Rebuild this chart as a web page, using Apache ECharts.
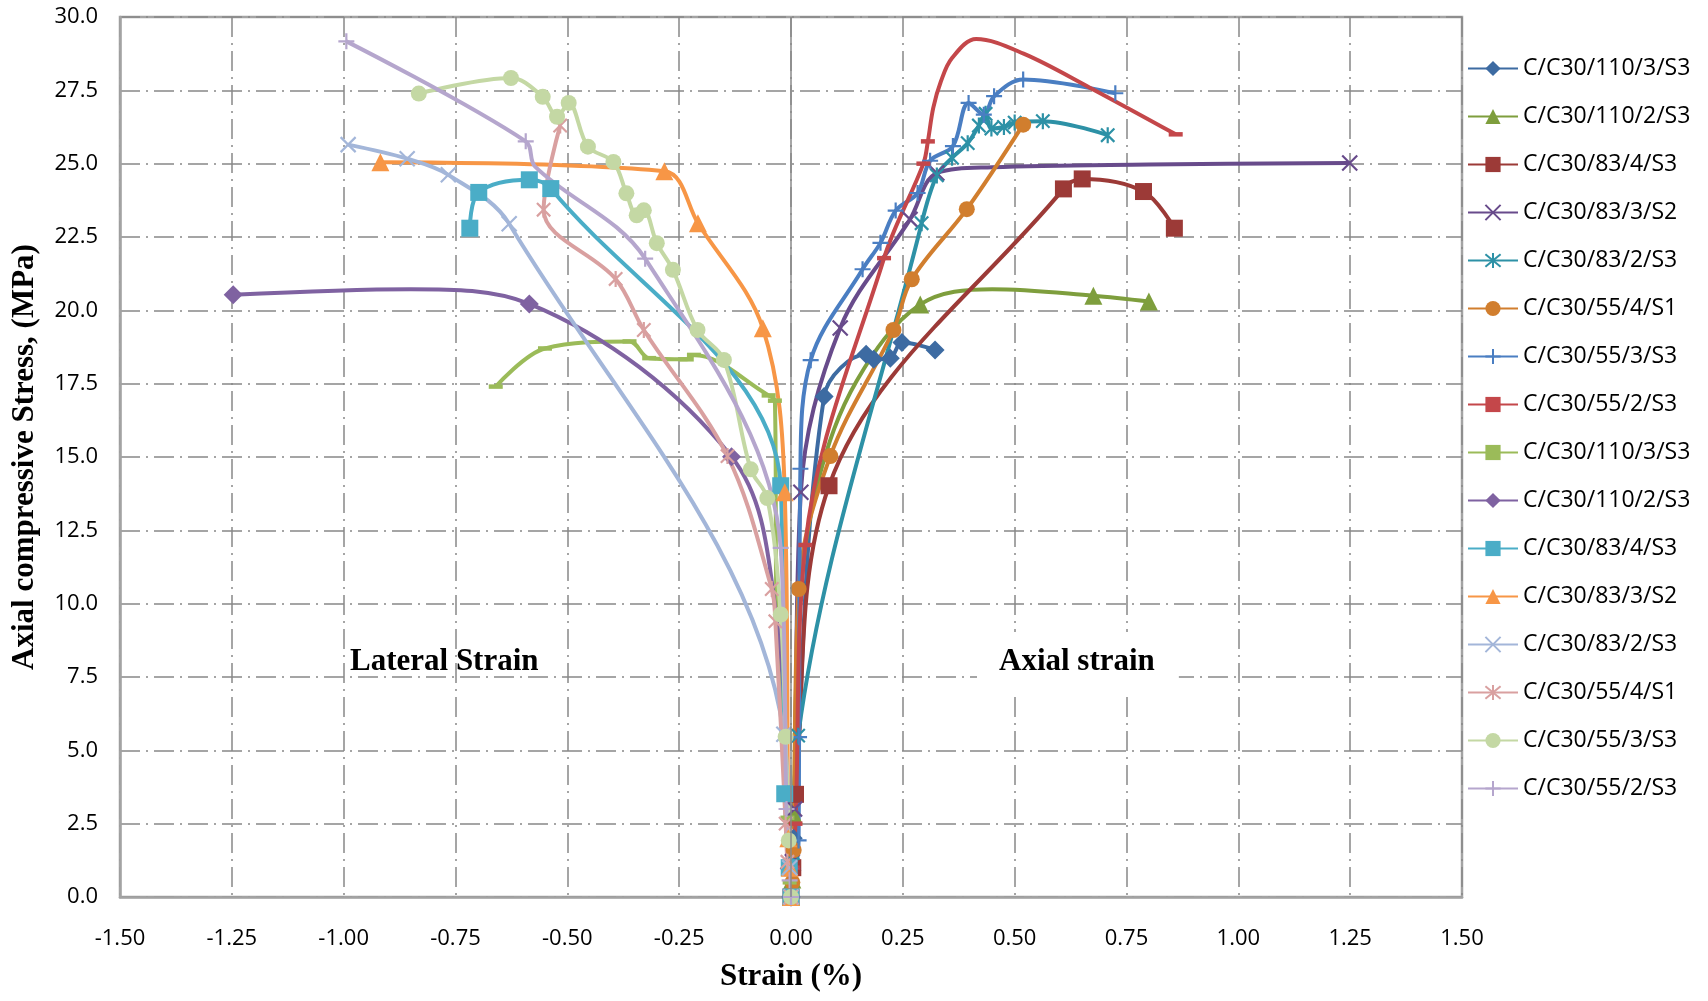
<!DOCTYPE html>
<html>
<head>
<meta charset="utf-8">
<script src="https://cdn.jsdelivr.net/npm/echarts@6/dist/echarts.min.js"></script>
<style>
html,body{margin:0;padding:0;background:#fff;}
#chart{width:1708px;height:1001px;}
</style>
</head>
<body>
<div id="chart"></div>
<script>
// ---- Data (strain %, stress MPa) ----
const seriesNames = [
  'C/C30/110/3/S3','C/C30/110/2/S3','C/C30/83/4/S3','C/C30/83/3/S2',
  'C/C30/83/2/S3','C/C30/55/4/S1','C/C30/55/3/S3','C/C30/55/2/S3',
  'C/C30/110/3/S3','C/C30/110/2/S3','C/C30/83/4/S3','C/C30/83/3/S2',
  'C/C30/83/2/S3','C/C30/55/4/S1','C/C30/55/3/S3','C/C30/55/2/S3'
];
const xTicks = [-1.5,-1.25,-1,-0.75,-0.5,-0.25,0,0.25,0.5,0.75,1,1.25,1.5];
const yTicks = [0,2.5,5,7.5,10,12.5,15,17.5,20,22.5,25,27.5,30];

// Axial strain series
const ax1_strain = [0,0.002,0.005,0.074,0.168,0.185,0.222,0.248,0.322];
const ax1_stress = [0,0.9,2.0,17.06,18.5,18.33,18.37,18.9,18.65];
const ax2_strain = [0,0.003,0.006,0.02,0.061,0.147,0.289,0.45,0.676,0.80];
const ax2_stress = [0,0.6,2.8,10.2,14.2,17.6,20.2,20.72,20.5,20.3];
const ax3_strain = [0,0.004,0.01,0.085,0.609,0.651,0.788,0.857];
const ax3_stress = [0,1.0,3.5,14.02,24.14,24.48,24.05,22.8];
const ax4_strain = [0,0.003,0.008,0.022,0.11,0.266,0.326,0.45,0.8,1.249];
const ax4_stress = [0,1.2,3.0,13.8,19.4,23.1,24.68,24.88,24.97,25.02];
const ax5_strain = [0,0.004,0.016,0.292,0.326,0.36,0.395,0.42,0.435,0.448,0.476,0.50,0.563,0.708];
const ax5_stress = [0,1.5,5.5,22.97,24.6,25.2,25.7,26.3,26.7,26.2,26.25,26.4,26.45,25.97];
const ax6_strain = [0,0.003,0.006,0.017,0.088,0.229,0.27,0.393,0.519];
const ax6_stress = [0,0.5,1.6,10.5,15.03,19.33,21.06,23.45,26.33];
const ax7_strain = [0,0.017,0.018,0.021,0.044,0.16,0.2,0.234,0.283,0.311,0.362,0.397,0.431,0.454,0.519,0.725];
const ax7_stress = [0,1.93,5.45,14.6,18.3,21.4,22.3,23.4,24.0,25.1,25.6,27.07,26.67,27.3,27.87,27.4];
const ax8_strain = [0,0.004,0.01,0.032,0.208,0.296,0.306,0.318,0.335,0.36,0.414,0.52,0.667,0.86];
const ax8_stress = [0,1.0,2.5,12.0,21.78,25.0,25.76,26.9,27.8,28.6,29.25,28.75,27.6,26.0];

// Lateral strain series
const lat1_strain = [0,-0.003,-0.008,-0.032,-0.036,-0.05,-0.217,-0.233,-0.317,-0.361,-0.55,-0.66];
const lat1_stress = [0,0.5,2.7,9.44,16.92,17.1,18.48,18.33,18.37,18.94,18.7,17.4];
const lat2_strain = [0,-0.004,-0.033,-0.133,-0.585,-0.85,-1.247];
const lat2_stress = [0,0.97,9.6,15.01,20.22,20.72,20.53];
const lat3_strain = [0,-0.004,-0.014,-0.023,-0.537,-0.585,-0.698,-0.718];
const lat3_stress = [0,1.0,3.52,14.02,24.15,24.45,24.02,22.8];
const lat4_strain = [0,-0.003,-0.006,-0.014,-0.063,-0.208,-0.283,-0.918];
const lat4_stress = [0,1.0,2.0,13.8,19.39,22.97,24.74,25.05];
const lat5_strain = [0,-0.003,-0.016,-0.63,-0.766,-0.858,-0.99];
const lat5_stress = [0,1.0,5.55,22.95,24.62,25.17,25.65];
const lat6_strain = [0,-0.008,-0.012,-0.035,-0.043,-0.142,-0.329,-0.392,-0.553,-0.516];
const lat6_stress = [0,1.2,2.5,9.4,10.5,15.03,19.33,21.07,23.43,26.3];
const lat7_strain = [0,-0.005,-0.012,-0.023,-0.053,-0.09,-0.15,-0.209,-0.264,-0.3,-0.329,-0.345,-0.368,-0.397,-0.454,-0.497,-0.523,-0.555,-0.626,-0.832];
const lat7_stress = [0,1.93,5.46,9.63,13.6,14.58,18.31,19.33,21.38,22.29,23.41,23.24,23.99,25.06,25.58,27.07,26.6,27.28,27.92,27.39];
const lat8_strain = [0,-0.003,-0.01,-0.023,-0.326,-0.572,-0.593,-0.994];
const lat8_stress = [0,0.57,3.0,11.9,21.76,24.9,25.76,29.17];

const strainArrays = [ax1_strain,ax2_strain,ax3_strain,ax4_strain,ax5_strain,ax6_strain,ax7_strain,ax8_strain,
  lat1_strain,lat2_strain,lat3_strain,lat4_strain,lat5_strain,lat6_strain,lat7_strain,lat8_strain];
const stressArrays = [ax1_stress,ax2_stress,ax3_stress,ax4_stress,ax5_stress,ax6_stress,ax7_stress,ax8_stress,
  lat1_stress,lat2_stress,lat3_stress,lat4_stress,lat5_stress,lat6_stress,lat7_stress,lat8_stress];

// ---- Styles ----
const colors = ['#3D6BA2','#7E9E3D','#9C3A37','#684B8B','#2D91A6','#D17E2E','#4A7EC2','#C4474A',
  '#9BBB59','#7F62A1','#4AADC7','#F79646','#A3B6D9','#D9A0A0','#C4D8A4','#B5A6CD'];
const X_PATH = 'path://M0,0L10,10M10,0L0,10';
const STAR_PATH = 'path://M0,0L10,10M10,0L0,10M5,-1L5,11';
const PLUS_PATH = 'path://M5,0L5,10M0,5L10,5';
const DASH_PATH = 'path://M0,0L10,0L10,3.2L0,3.2Z';
const symbols = ['diamond','triangle','rect',X_PATH,STAR_PATH,'circle',PLUS_PATH,DASH_PATH,
  DASH_PATH,'diamond','rect','triangle',X_PATH,STAR_PATH,'circle',PLUS_PATH];
const symbolSizes = [19,18,17,15,16,16,16,14,14,19,17,18,15,16,16,16];
// marker visibility: indices of points drawn without a marker (line passes through only)
const hiddenMarkers = [[],[3,4,5,7],[],[7,8],[],[],[],[7,8,9,10,11,12],
  [3],[2,5],[],[],[],[],[],[5]];

const series = strainArrays.map((xs, i) => {
  const strokeOnly = (symbols[i] === X_PATH || symbols[i] === STAR_PATH || symbols[i] === PLUS_PATH);
  const s = {
    name: seriesNames[i] + (i >= 8 ? ' ' : ''),
    type: 'line',
    smooth: 0.35,
    data: xs.map((x, k) => hiddenMarkers[i].indexOf(k) >= 0
      ? { value: [x, stressArrays[i][k]], symbol: 'none' }
      : [x, stressArrays[i][k]]),
    symbol: symbols[i],
    symbolSize: symbolSizes[i],
    symbolKeepAspect: true,
    showAllSymbol: true,
    lineStyle: { color: colors[i], width: 4 },
    itemStyle: { color: colors[i], borderColor: colors[i], borderWidth: strokeOnly ? 2.2 : 0 },
    emphasis: { disabled: true },
    animation: false
  };
  if (i === 0) {
    s.markLine = {
      silent: true, symbol: 'none', label: { show: false },
      lineStyle: { color: '#8a8a8a', width: 1.5, type: 'solid' },
      data: [{ xAxis: 0 }],
      animation: false
    };
  }
  return s;
});

const gridLine = { show: true, lineStyle: { color: '#888888', width: 1.5, type: [20, 6, 2, 6] } };

const chart = echarts.init(document.getElementById('chart'), null, { renderer: 'canvas' });
chart.setOption({
  backgroundColor: '#ffffff',
  animation: false,
  color: colors,
  grid: { left: 120, right: 246, top: 17, bottom: 104, show: true, borderColor: '#a3a3a3', borderWidth: 2.5, backgroundColor: 'transparent' },
  xAxis: {
    type: 'value', min: xTicks[0], max: xTicks[xTicks.length - 1], interval: xTicks[1] - xTicks[0],
    name: 'Strain (%)', nameLocation: 'middle', nameGap: 64,
    nameTextStyle: { fontFamily: 'Liberation Serif', fontWeight: 'bold', fontSize: 31, color: '#000' },
    axisLine: { onZero: false, lineStyle: { color: '#a3a3a3', width: 2.5 } },
    axisTick: { show: false },
    axisLabel: { margin: 31, fontFamily: 'Open Sans', fontSize: 22, color: '#000', formatter: v => v.toFixed(2) },
    splitLine: gridLine
  },
  yAxis: {
    type: 'value', min: yTicks[0], max: yTicks[yTicks.length - 1], interval: yTicks[1] - yTicks[0],
    name: 'Axial compressive Stress, (MPa)', nameLocation: 'middle', nameGap: 80,
    nameTextStyle: { fontFamily: 'Liberation Serif', fontWeight: 'bold', fontSize: 31, color: '#000' },
    axisLine: { show: true, onZero: false, lineStyle: { color: '#a3a3a3', width: 2.5 } },
    axisTick: { show: false },
    axisLabel: { margin: 22, fontFamily: 'Open Sans', fontSize: 22, color: '#000', formatter: v => v.toFixed(1) },
    splitLine: gridLine
  },
  legend: {
    orient: 'vertical', left: 1462, top: 52, itemGap: 25, itemWidth: 50, itemHeight: 19,
    textStyle: { fontFamily: 'Open Sans', fontSize: 23, color: '#000' },
    formatter: n => n.trim(),
    selectedMode: false
  },
  graphic: [
    { type: 'text', left: 350, top: 646, z: 100, silent: true,
      style: { text: 'Lateral Strain', font: 'bold 31px "Liberation Serif"', fill: '#000' } },
    { type: 'text', left: 977, top: 632, z: 100, silent: true,
      style: { text: 'Axial strain', font: 'bold 31px "Liberation Serif"', fill: '#000',
               backgroundColor: '#ffffff', padding: [14, 24, 14, 22] } }
  ],
  series: series
});
</script>
</body>
</html>
